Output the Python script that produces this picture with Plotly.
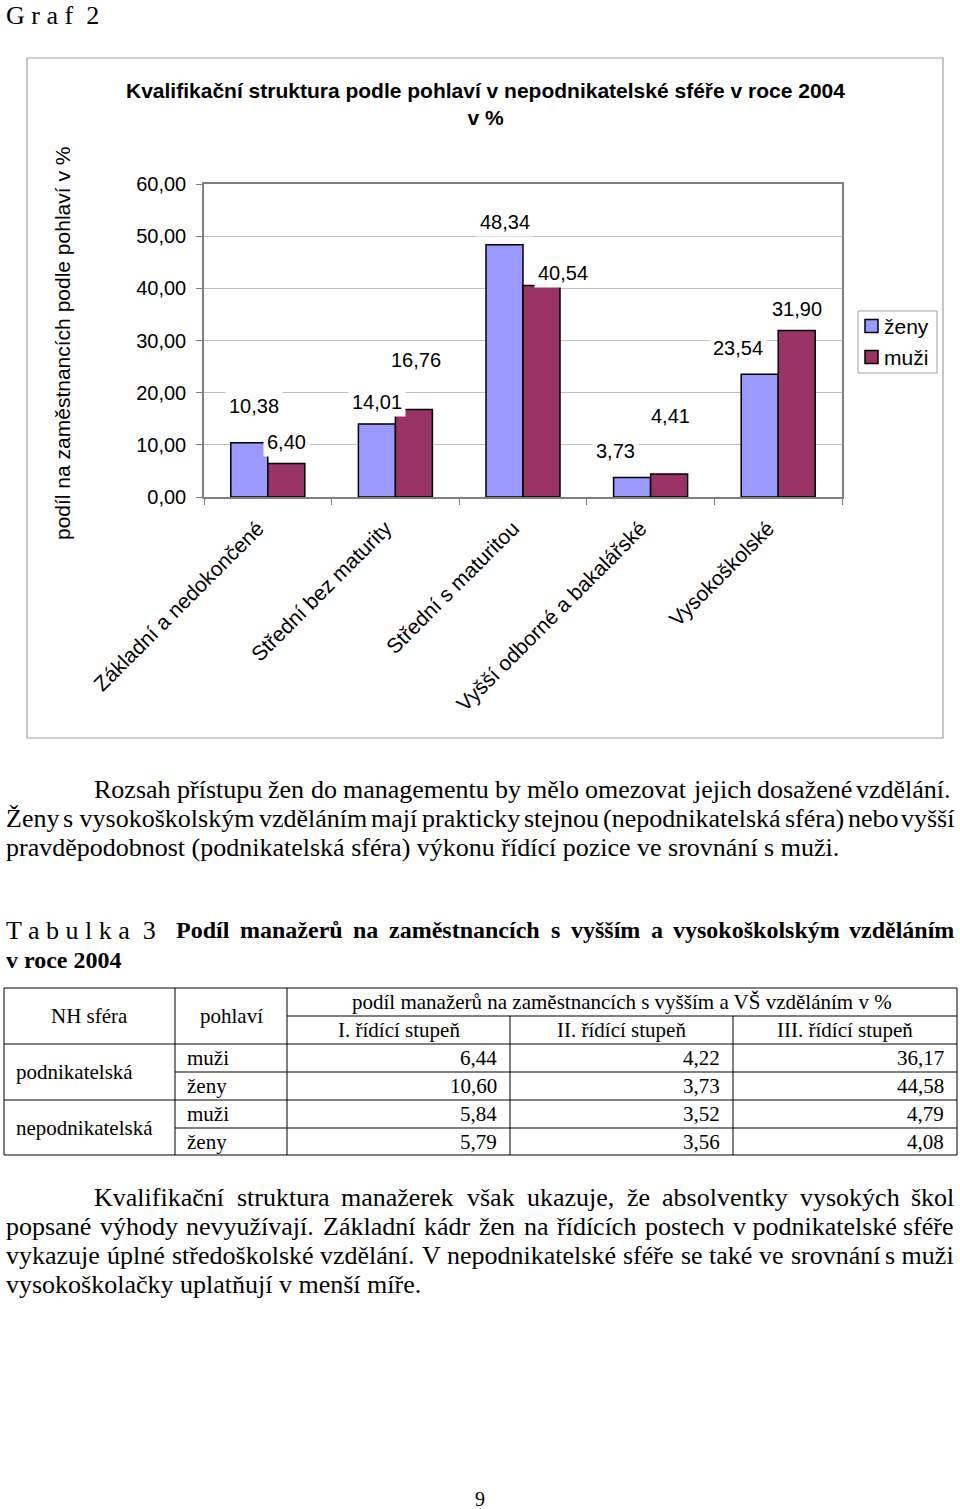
import unicodedata
import plotly.graph_objects as go

# ---------------- data ----------------
categories = ["Základní a nedokončené", "Střední bez maturity", "Střední s maturitou",
              "Vyšší odborné a bakalářské", "Vysokoškolské"]
zeny = [10.38, 14.01, 48.34, 3.73, 23.54]
muzi = [6.40, 16.76, 40.54, 4.41, 31.90]
series_names = ["ženy", "muži"]
series_colors = ["#9999FF", "#993366"]
y_ticks = [0, 10, 20, 30, 40, 50, 60]

chart_title = "Kvalifikační struktura podle pohlaví v nepodnikatelské sféře v roce 2004<br>v %"
y_title = "podíl na zaměstnancích podle pohlaví v %"

tab_sphere = ["podnikatelská", "nepodnikatelská"]
tab_gender = ["muži", "ženy", "muži", "ženy"]
tab_st1 = [6.44, 10.60, 5.84, 5.79]
tab_st2 = [4.22, 3.73, 3.52, 3.56]
tab_st3 = [36.17, 44.58, 4.79, 4.08]
tab_head = ["NH sféra", "pohlaví", "podíl manažerů na zaměstnancích s vyšším a VŠ vzděláním v %"]
tab_sub = ["I. řídící stupeň", "II. řídící stupeň", "III. řídící stupeň"]

para1 = [
    "Rozsah přístupu žen do managementu by mělo omezovat jejich dosažené vzdělání.",
    "Ženy s\u00a0vysokoškolským vzděláním mají prakticky stejnou (nepodnikatelská sféra) nebo vyšší",
    "pravděpodobnost (podnikatelská sféra) výkonu řídící pozice ve srovnání s muži.",
]
para2 = [
    "Kvalifikační struktura manažerek však ukazuje, že absolventky vysokých škol",
    "popsané výhody nevyužívají. Základní kádr žen na řídících postech v\u00a0podnikatelské sféře",
    "vykazuje úplné středoškolské vzdělání. V nepodnikatelské sféře se také ve srovnání s\u00a0muži",
    "vysokoškolačky uplatňují v menší míře.",
]
tab_caption = "Podíl manažerů na zaměstnancích s vyšším a vysokoškolským vzděláním"

# ---------------- layout helpers ----------------
W, H = 960, 1509
def px(x): return x / W
def py(y): return 1 - y / H

SERIF = "Liberation Serif"
SANS = "Liberation Sans"

def _tbl(s):
    d = {}
    for tok in s.split():
        d[tok[0]] = int(tok[1:])
    return d
TR = _tbl("a444 b500 c444 d500 e444 f333 g500 h500 i278 j278 k500 l278 m778 n500 o500 p500 q500 r333 "
          "s389 t278 u500 v500 w722 x500 y500 z444 A722 B667 C667 D722 E611 F556 G722 H722 I333 J389 "
          "K722 L611 M889 N722 O722 P556 Q722 R667 S556 T611 U722 V722 W944 X722 Y722 Z611 ,250 .250 "
          "(333 )333 %833 -333")
TB = _tbl("a500 b556 c444 d556 e444 f333 g500 h556 i278 j333 k556 l278 m833 n556 o500 p556 q556 r444 "
          "s389 t333 u556 v500 w722 x500 y500 z444 A722 B667 C722 D722 E667 F611 G778 H778 I389 J500 "
          "K778 L667 M944 N722 O778 P611 Q778 R722 S556 T667 U722 V722 W1000 X722 Y722 Z667 ,250 .250 "
          "(333 )333 %1000 -333")
for t in (TR, TB):
    t[" "] = 250
    t["\u00a0"] = 250

def tw(s, size, bold=False):
    t = TB if bold else TR
    tot = 0
    for ch in s:
        b = unicodedata.normalize("NFD", ch)[0]
        tot += t.get(b, 500)
    return tot * size / 1000

annotations = []
shapes = []

def text(s, x, y, size, family=SERIF, xanchor="left", bold=False, color="black", **kw):
    if bold:
        s = "<b>" + s + "</b>"
    annotations.append(dict(text=s, x=px(x), y=py(y), xref="paper", yref="paper",
                            xanchor=xanchor, yanchor="middle", showarrow=False,
                            font=dict(family=family, size=size, color=color), borderpad=0, **kw))

def line_text(s, x0, x1, y, size, bold=False, justify=True):
    words = s.split(" ")
    if not justify or len(words) < 2:
        text(s, x0, y, size, bold=bold)
        return
    widths = [tw(w, size, bold) for w in words]
    gap = (x1 - x0 - sum(widths)) / (len(words) - 1)
    x = x0
    for i, (w, wd) in enumerate(zip(words, widths)):
        if i == len(words) - 1:
            text(w, x1, y, size, xanchor="right", bold=bold)
        else:
            text(w, x, y, size, bold=bold)
        x += wd + gap

def hline(x0, x1, y, color="black", width=1):
    shapes.append(dict(type="line", xref="paper", yref="paper", x0=px(x0), x1=px(x1),
                       y0=py(y), y1=py(y), line=dict(color=color, width=width)))

def vline(x, y0, y1, color="black", width=1):
    shapes.append(dict(type="line", xref="paper", yref="paper", x0=px(x), x1=px(x),
                       y0=py(y0), y1=py(y1), line=dict(color=color, width=width)))

def rect(x0, y0, x1, y1, line_color, fill=None, width=1):
    d = dict(type="rect", xref="paper", yref="paper", x0=px(x0), x1=px(x1),
             y0=py(y1), y1=py(y0), line=dict(color=line_color, width=width))
    if fill:
        d["fillcolor"] = fill
    shapes.append(d)

# ---------------- chart ----------------
fig = go.Figure()
for name, vals, col in zip(series_names, (zeny, muzi), series_colors):
    fig.add_trace(go.Bar(name=name, x=categories, y=vals, showlegend=False,
                         marker=dict(color=col, line=dict(color="black", width=1.5))))

# data labels (Excel-like placement offsets, px)
BAR_OFF = 18.5
lbl_zeny = [(4.5, 37), (0, 22), (0, 23), (-17, 26.5), (-22, 26)]
lbl_muzi = [(0, 21.5), (2.5, 49.5), (21, 13), (1, 58), (0, 21.5)]
for series, offs, sign in ((zeny, lbl_zeny, -1), (muzi, lbl_muzi, 1)):
    for cat, v, (dx, up) in zip(categories, series, offs):
        annotations.append(dict(text=f"{v:.2f}".replace(".", ","), x=cat, y=v, xref="x", yref="y",
                                xshift=sign * BAR_OFF + dx, yshift=up, yanchor="middle",
                                showarrow=False, bgcolor="white", borderpad=3,
                                font=dict(family=SANS, size=20, color="black")))

# chart title / axis title
text(chart_title, 485, 104, 21, family=SANS, xanchor="center", bold=True)
annotations.append(dict(text=y_title, x=px(62), y=py(344), xref="paper", yref="paper",
                        textangle=-90, showarrow=False, xanchor="center", yanchor="middle",
                        font=dict(family=SANS, size=21, color="black")))

# chart frame
rect(27, 58, 943, 738, "#A0A0A0", width=1.2)

# manual legend
rect(858, 311, 937, 373, "#A0A0A0", fill="white", width=1)
for k, (name, col) in enumerate(zip(series_names, series_colors)):
    yc = 326 + 31 * k
    rect(865, yc - 6.5, 878, yc + 6.5, "black", fill=col, width=1.5)
    text(name, 883, yc, 21, family=SANS)

# ---------------- page text ----------------
text("G r a f&nbsp; 2", 5, 15, 26)
ys1 = [789, 818, 848]
line_text(para1[0], 93, 952, ys1[0], 26)
line_text(para1[1], 5, 955, ys1[1], 26)
line_text(para1[2], 5, 955, ys1[2], 26, justify=False)

text("T a b u l k a&nbsp; 3", 5, 930, 26)
line_text(tab_caption, 175, 955, 930, 24, bold=True)
text("v roce 2004", 5, 960, 24, bold=True)

ys2 = [1197, 1226, 1255, 1284]
line_text(para2[0], 93, 955, ys2[0], 26)
line_text(para2[1], 5, 955, ys2[1], 26)
line_text(para2[2], 5, 955, ys2[2], 26)
line_text(para2[3], 5, 955, ys2[3], 26, justify=False)

text("9", 480, 1499, 20, xanchor="center")

# ---------------- table ----------------
cols = [4, 175, 287, 510, 733, 957]
rows = [988, 1016, 1044, 1072, 1100, 1128, 1155]
hline(cols[0], cols[-1], rows[0])
hline(cols[2], cols[-1], rows[1])
hline(cols[0], cols[-1], rows[2])
hline(cols[1], cols[-1], rows[3])
hline(cols[0], cols[-1], rows[4])
hline(cols[1], cols[-1], rows[5])
hline(cols[0], cols[-1], rows[6])
for i, c in enumerate(cols):
    top = rows[1] if i in (3, 4) else rows[0]
    vline(c, top, rows[-1])

TF = 21
text(tab_head[0], (cols[0] + cols[1]) / 2, rows[1], TF, xanchor="center")
text(tab_head[1], (cols[1] + cols[2]) / 2, rows[1], TF, xanchor="center")
text(tab_head[2], (cols[2] + cols[5]) / 2, (rows[0] + rows[1]) / 2, TF, xanchor="center")
for j, s in enumerate(tab_sub):
    text(s, (cols[2 + j] + cols[3 + j]) / 2, (rows[1] + rows[2]) / 2, TF, xanchor="center")
for k, s in enumerate(tab_sphere):
    text(s, cols[0] + 11, rows[3 + 2 * k], TF)
for r in range(4):
    yc = (rows[2 + r] + rows[3 + r]) / 2
    text(tab_gender[r], cols[1] + 11, yc, TF)
    for j, vals in enumerate((tab_st1, tab_st2, tab_st3)):
        text(f"{vals[r]:.2f}".replace(".", ","), cols[3 + j] - 12, yc, TF, xanchor="right")

# ---------------- layout ----------------
fig.update_layout(
    width=W, height=H, margin=dict(l=0, r=0, t=0, b=0, autoexpand=False),
    paper_bgcolor="white", plot_bgcolor="white",
    separators=", ",
    barmode="group", bargap=0.42, bargroupgap=0,
    showlegend=False,
    xaxis=dict(domain=[px(204), px(842)], tickangle=-45, tickson="boundaries", automargin=False,
               ticks="outside", ticklen=6, tickcolor="#808080",
               ticklabelstandoff=9, ticklabelshift=-10,
               showline=True, linecolor="#808080", linewidth=1.5, mirror=True,
               tickfont=dict(family=SANS, size=21, color="black"), showgrid=False),
    yaxis=dict(domain=[py(497), py(184)], range=[0, 60], tickvals=y_ticks, tickformat=".2f",
               automargin=False,
               ticks="outside", ticklen=6, tickcolor="#808080",
               showline=True, linecolor="#808080", linewidth=1.5, mirror=True,
               showgrid=True, gridcolor="#C0C0C0", gridwidth=1, zeroline=False,
               ticklabelstandoff=6,
               tickfont=dict(family=SANS, size=20, color="black")),
    annotations=annotations, shapes=shapes,
)

# remove the browser's default 8px body margin so the page maps 1:1 onto the figure
fig.write_html("out.html", config={"displayModeBar": False},
               post_script="document.body.style.margin='0';")
